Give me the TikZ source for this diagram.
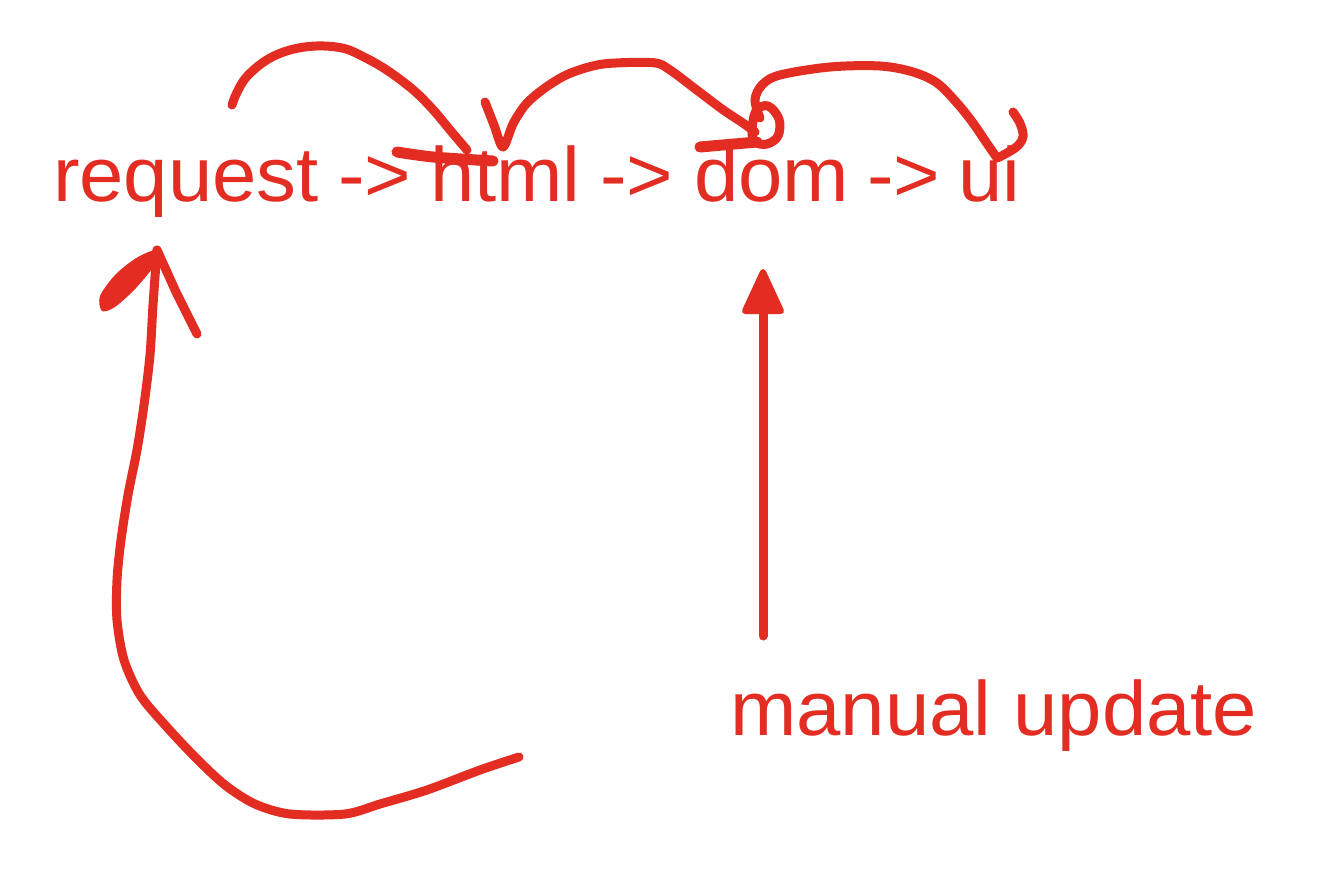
\documentclass[tikz,border=0pt]{standalone}
\usepackage{fontspec}
\setmainfont[FakeStretch=1.035]{Liberation Sans}
\definecolor{inkred}{RGB}{227,45,35}
\begin{document}
\begin{tikzpicture}[x=1pt,y=-1pt,
  word/.style={anchor=base west,inner sep=0pt,outer sep=0pt,text=inkred,font=\fontsize{77}{90}\selectfont},
  inkline/.style={draw=inkred,line width=9pt,line cap=round,line join=round},
  thickink/.style={draw=inkred,line width=11pt,line cap=round,line join=round}]
\useasboundingbox (0,0) rectangle (1335,877);
\fill[white] (0,0) rectangle (1335,877);

% text
\node[word] (req)  at (53,202)  {request};
\node[word] (a1)   at (338,202) {->};
\node[word] (html) at (430,202) {html};
\node[word] (a2)   at (600,202) {->};
\node[word] (dom)  at (694,202) {dom};
\node[word] (a3)   at (867,202) {->};
\node[word] (ui)   at (958,202) {ui};
\node[word] (mu)   at (730,735) {manual update};

% request -> html arc
\coordinate (s1a) at (232,105);
\coordinate (s1b) at (467,150);
\draw[inkline] plot[smooth,tension=0.6] coordinates {(s1a) (236.7,93) (246.7,76.7) (266.7,60) (290,50) (316.7,46) (343.3,48.3) (363.3,56.7) (386.7,70) (413.3,90) (433.3,110) (450,130) (s1b)};
% barb across html
\coordinate (b1a) at (397,152);
\coordinate (b1b) at (493,161);
\draw[thickink] plot[smooth,tension=0.5] coordinates {(b1a) (433,157) (b1b)};

% html -> dom arc
\coordinate (s2a) at (485,102);
\coordinate (s2b) at (755,132);
\draw[inkline] plot[smooth,tension=0.5] coordinates {(s2a) (494,125) (503,147) (513.3,123.3) (526.7,103.3) (546.7,86.7) (570,73.3) (603.3,64) (653.3,62.7) (670,70) (696.7,90) (723.3,110) (743.3,123.3) (s2b)};
% little loop on dom
\draw[inkline] plot[smooth cycle,tension=0.6] coordinates {(752,131) (756,111) (768,106) (779,119) (778,136) (767,144) (755,142)};
% barb across dom
\coordinate (b2a) at (700,147);
\coordinate (b2b) at (757,142);
\draw[thickink] (b2a) -- (b2b);

% dom -> ui arc
\coordinate (s3a) at (760,118);
\coordinate (s3b) at (997,158);
\draw[inkline] plot[smooth,tension=0.55] coordinates {(s3a) (755,100) (762,85) (780,75) (830,67) (880,66) (913,72) (937,83) (957,103) (973,123) (988,145) (s3b)};
% hook on ui
\coordinate (h3a) at (1013,112);
\draw[inkline] plot[smooth,tension=0.6] coordinates {(h3a) (1020,123.3) (1023,136.7) (1016.7,146.7) (1003.3,155) (s3b)};

% big return arrow to request
\coordinate (rt) at (157,250);
\coordinate (re) at (519,757);
\draw[inkline] plot[smooth,tension=0.5] coordinates {(re) (480,770) (427,790) (380,804) (345,814) (290,814) (255,804) (225,785) (195,757) (165,725) (140,695) (124,660) (117,620) (117,580) (121,540) (128,495) (137,450) (144,405) (150,355) (153,305) (rt)};
\fill[inkred] plot[smooth cycle,tension=0.5] coordinates {(rt) (138,257) (116,274) (100,296) (102,311) (115,307) (136,288) (156,263)};
\draw[inkline] (rt) -- (176,292) -- (197,334);

% manual update arrow
\coordinate (mb) at (763,636);
\coordinate (mt) at (763,272);
\draw[inkline] (mb) -- (763,305);
\filldraw[inkred,line width=6pt,line join=round] (mt) -- (745,311) -- (781,311) -- cycle;
\end{tikzpicture}
\end{document}
